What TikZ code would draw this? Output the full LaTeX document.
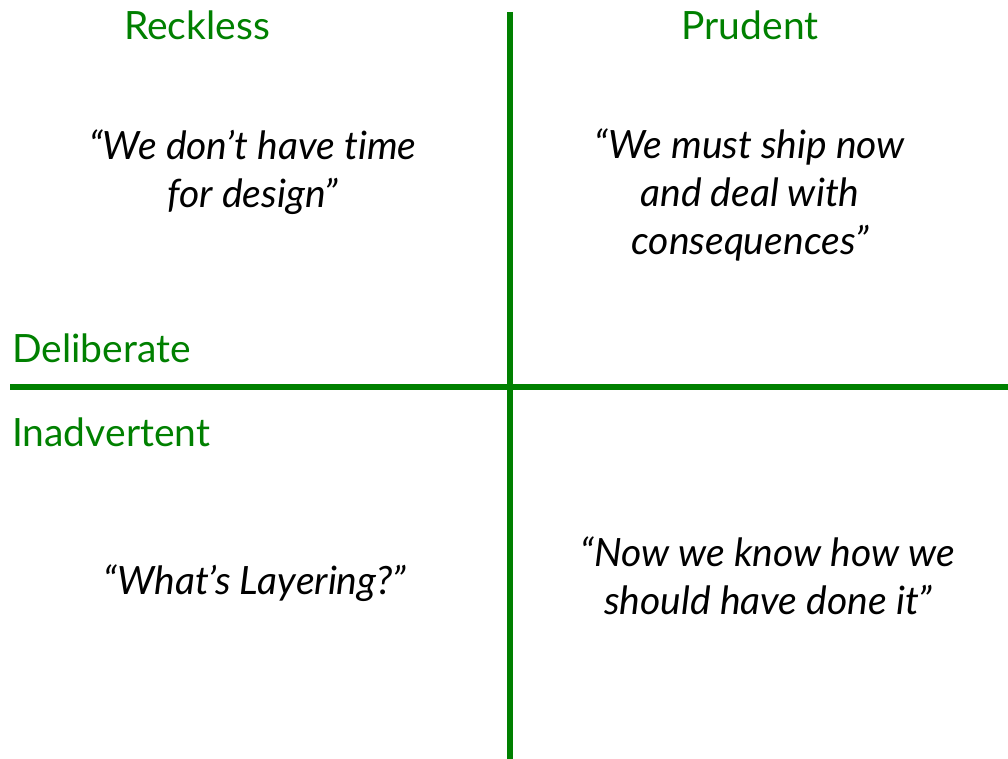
\documentclass[tikz,border=0pt]{standalone}
\usepackage{fontspec}
\setmainfont{Lato}[Ligatures={NoCommon}]
\definecolor{qgreen}{HTML}{008000}
\begin{document}
\begin{tikzpicture}[x=1pt,y=-1pt,
  axis/.style={draw=qgreen,line width=5.5pt},
  head/.style={text=qgreen,font=\fontsize{39}{44}\selectfont,inner sep=0pt},
  quote/.style={align=center,font=\fontsize{39}{48}\selectfont\itshape,inner sep=0pt}]
\useasboundingbox (0,0) rectangle (1008,759);
\coordinate (vt) at (510,12);
\coordinate (vb) at (510,759);
\coordinate (hl) at (10,387);
\coordinate (hr) at (1008,387);
\draw[axis] (vt) -- (vb);
\draw[axis] (hl) -- (hr);
\node[head] (reckless) at (197,25) {Reckless};
\node[head] (prudent) at (750,25) {Prudent};
\node[head,anchor=west] (delib) at (12,348) {Deliberate};
\node[head,anchor=west] (inadv) at (12,432) {Inadvertent};
\node[quote] (q1) at (253,172) {“We don’t have time\\for design”};
\node[quote] (q2) at (750,195) {“We must ship now\\and deal with\\consequences”};
\node[quote] (q3) at (255,583) {“What’s Layering?”};
\node[quote] (q4) at (768,576) {“Now we know how we\\should have done it”};
\end{tikzpicture}
\end{document}
